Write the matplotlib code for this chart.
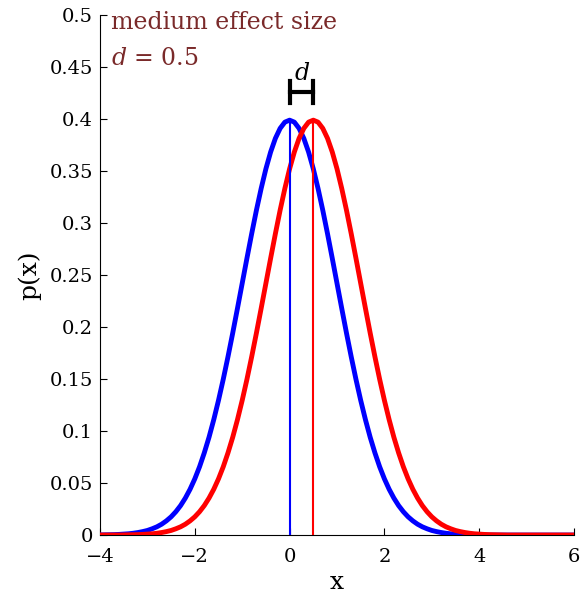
import matplotlib
matplotlib.use("Agg")
import matplotlib.pyplot as plt

# x grid and densities (step 0.1, x from -4 to 6)
x = [round(-4 + 0.1 * i, 1) for i in range(101)]
p_blue = [0.0001, 0.0002, 0.0003, 0.0004, 0.0006, 0.0009, 0.0012, 0.0017,
          0.0024, 0.0033, 0.0044, 0.0060, 0.0079, 0.0104, 0.0136, 0.0175,
          0.0224, 0.0283, 0.0355, 0.0440, 0.0540, 0.0656, 0.0790, 0.0940,
          0.1109, 0.1295, 0.1497, 0.1714, 0.1942, 0.2179, 0.2420, 0.2661,
          0.2897, 0.3123, 0.3332, 0.3521, 0.3683, 0.3814, 0.3910, 0.3970,
          0.3989,
          0.3970, 0.3910, 0.3814, 0.3683, 0.3521, 0.3332, 0.3123, 0.2897,
          0.2661, 0.2420, 0.2179, 0.1942, 0.1714, 0.1497, 0.1295, 0.1109,
          0.0940, 0.0790, 0.0656, 0.0540, 0.0440, 0.0355, 0.0283, 0.0224,
          0.0175, 0.0136, 0.0104, 0.0079, 0.0060, 0.0044, 0.0033, 0.0024,
          0.0017, 0.0012, 0.0009, 0.0006, 0.0004, 0.0003, 0.0002, 0.0001,
          0, 0, 0, 0, 0, 0, 0, 0, 0, 0,
          0, 0, 0, 0, 0, 0, 0, 0, 0, 0]
p_red = [0, 0, 0, 0, 0,
         0.0001, 0.0002, 0.0003, 0.0004, 0.0006, 0.0009, 0.0012, 0.0017,
         0.0024, 0.0033, 0.0044, 0.0060, 0.0079, 0.0104, 0.0136, 0.0175,
         0.0224, 0.0283, 0.0355, 0.0440, 0.0540, 0.0656, 0.0790, 0.0940,
         0.1109, 0.1295, 0.1497, 0.1714, 0.1942, 0.2179, 0.2420, 0.2661,
         0.2897, 0.3123, 0.3332, 0.3521, 0.3683, 0.3814, 0.3910, 0.3970,
         0.3989,
         0.3970, 0.3910, 0.3814, 0.3683, 0.3521, 0.3332, 0.3123, 0.2897,
         0.2661, 0.2420, 0.2179, 0.1942, 0.1714, 0.1497, 0.1295, 0.1109,
         0.0940, 0.0790, 0.0656, 0.0540, 0.0440, 0.0355, 0.0283, 0.0224,
         0.0175, 0.0136, 0.0104, 0.0079, 0.0060, 0.0044, 0.0033, 0.0024,
         0.0017, 0.0012, 0.0009, 0.0006, 0.0004, 0.0003, 0.0002, 0.0001,
         0, 0, 0, 0, 0, 0, 0, 0, 0, 0, 0, 0, 0, 0, 0]
means = [0, 0.5]
peak = 0.3989
effect_d = 0.5
bracket_y = 0.426

xticks = [-4, -2, 0, 2, 4, 6]
yticks = [0, 0.05, 0.1, 0.15, 0.2, 0.25, 0.3, 0.35, 0.4, 0.45, 0.5]
ytick_labels = ["0", "0.05", "0.1", "0.15", "0.2", "0.25", "0.3", "0.35",
                "0.4", "0.45", "0.5"]

plt.rcParams["font.family"] = ["DejaVu Serif"]
plt.rcParams["mathtext.fontset"] = "dejavuserif"

fig = plt.figure(figsize=(5.83, 5.96), dpi=100)
ax = fig.add_axes([0.1715, 0.1023, 0.8131, 0.8725])

blue = "#0000ff"
red = "#ff0000"

ax.plot(x, p_blue, color=blue, lw=3.5, solid_capstyle="butt", zorder=3)
ax.plot(x, p_red, color=red, lw=3.5, solid_capstyle="butt", zorder=3)
ax.plot([means[0], means[0]], [0, peak], color=blue, lw=1.5, zorder=4)
ax.plot([means[1], means[1]], [0, peak], color=red, lw=1.5, zorder=4)

# d bracket
ax.plot([means[0], means[0] + effect_d], [bracket_y, bracket_y], color="black", lw=3)
ax.plot([means[0], means[0]], [bracket_y - 0.011, bracket_y + 0.011], color="black", lw=3)
ax.plot([means[0] + effect_d, means[0] + effect_d],
        [bracket_y - 0.011, bracket_y + 0.011], color="black", lw=3)
ax.text(0.27, 0.433, "$d$", ha="center", va="bottom", fontsize=17)

ax.text(-3.76, 0.493, "medium effect size", color="#7a2a2a", fontsize=17,
        va="center", ha="left")
ax.text(-3.76, 0.458, "$d$ = 0.5", color="#7a2a2a", fontsize=17,
        va="center", ha="left")

ax.set_xlim(-4, 6)
ax.set_ylim(0, 0.5)
ax.set_xticks(xticks)
ax.set_yticks(yticks)
ax.set_yticklabels(ytick_labels)
ax.tick_params(direction="in", labelsize=14, length=5, width=0.8)
ax.tick_params(axis="x", pad=9)
ax.tick_params(axis="y", pad=5)
ax.spines["top"].set_visible(False)
ax.spines["right"].set_visible(False)
ax.set_xlabel("x", fontsize=18, labelpad=4)
ax.set_ylabel("p(x)", fontsize=18, labelpad=6)

fig.savefig("out.png", dpi=100)
